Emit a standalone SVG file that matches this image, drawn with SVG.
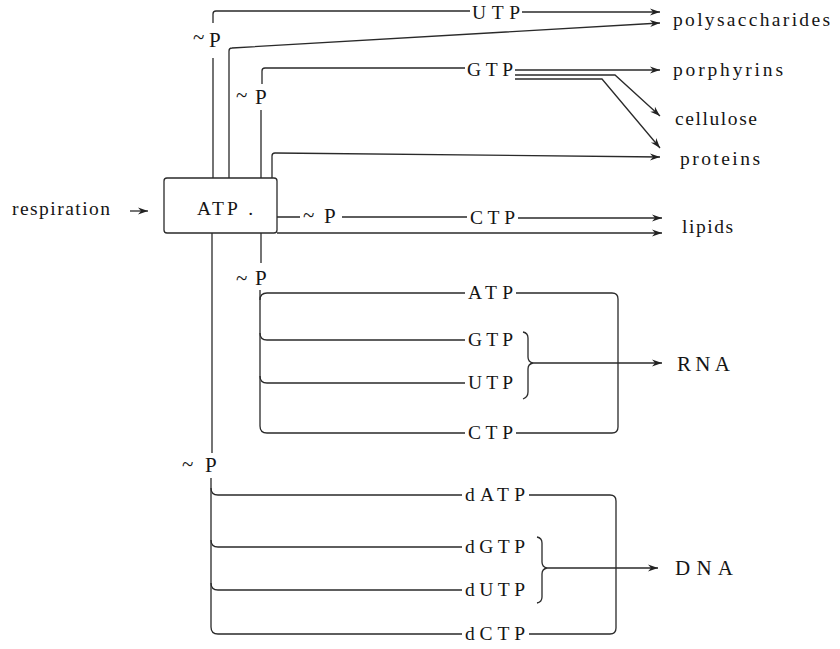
<svg xmlns="http://www.w3.org/2000/svg" width="840" height="649" viewBox="0 0 840 649">
<style>
.t{font-family:"Liberation Serif","Times New Roman",serif;font-size:19.5px;fill:#151515}
.p{font-family:"Liberation Serif","Times New Roman",serif;font-size:21px;fill:#151515}
.tl{font-family:"Liberation Serif","Times New Roman",serif;font-size:21px;fill:#151515}
.big{font-family:"Liberation Serif","Times New Roman",serif;font-size:21px;fill:#151515}
.c{fill:none;stroke:#2a2a2a;stroke-width:1.3}
.a{marker-end:url(#ah)}
</style>
<defs>
<marker id="ah" viewBox="0 0 10 8" refX="10" refY="4" markerWidth="11" markerHeight="8" orient="auto" markerUnits="userSpaceOnUse"><path d="M0,0.5 L10,4 L0,7.5 L3,4z" fill="#222"/></marker>
</defs>
<rect width="840" height="649" fill="#fff"/>
<g id="connectors">
<path class="c a" d="M130,211 H148"/>
<path class="c" d="M213,178 V58 M213,23 V14 Q213,11 216,11 H470"/>
<path class="c a" d="M522,12 H660"/>
<path class="c a" d="M229,178 V51 Q229,48 232,48 L660,23"/>
<path class="c" d="M261,178 V110 M262,84 V71 Q262,68 265,68 H465"/>
<path class="c a" d="M515,70 H660"/>
<path class="c a" d="M515,75 H615 L660,116"/>
<path class="c a" d="M515,79 H602 L660,148"/>
<path class="c a" d="M272,178 V156 Q272,153 275,153 L660,157"/>
<path class="c" d="M277,217 H300 M342,217 H467"/>
<path class="c a" d="M518,218 H662"/>
<path class="c a" d="M277,233 H662"/>
<path class="c" d="M261,233 V263"/>
<path class="c" d="M260,290 V426 Q260,433 267,433 H465"/>
<path class="c" d="M260,300 Q260,293 267,293 H465"/>
<path class="c" d="M260,333 Q260,340 267,340 H465"/>
<path class="c" d="M260,376 Q260,383 267,383 H465"/>
<path class="c" d="M516,293 H612 Q618,293 618,299 V427 Q618,433 612,433 H516"/>
<path class="c" d="M523,332 Q528,333 528,338 V357 Q528,362 533,363 Q528,364 528,369 V392 Q528,397 523,399"/>
<path class="c a" d="M533,363 H662"/>
<path class="c" d="M212,233 V453"/>
<path class="c" d="M211,478 V627 Q211,634 218,634 H462"/>
<path class="c" d="M211,488 Q211,495 218,495 H462"/>
<path class="c" d="M211,540 Q211,547 218,547 H462"/>
<path class="c" d="M211,583 Q211,590 218,590 H462"/>
<path class="c" d="M529,495 H610 Q616,495 616,501 V628 Q616,634 610,634 H529"/>
<path class="c" d="M537,537 Q542,538 542,543 V562 Q542,567 547,568 Q542,569 542,574 V597 Q542,602 537,603"/>
<path class="c a" d="M547,568 H658"/>
</g>
<g id="atp-box">
<rect x="164" y="178" width="113" height="55" rx="3" fill="none" stroke="#2a2a2a" stroke-width="1.3"/>
<text class="t" x="197" y="215" textLength="56" lengthAdjust="spacing">ATP .</text>
</g>
<g id="respiration"><text class="t" x="12" y="215" textLength="98" lengthAdjust="spacing">respiration</text></g>
<g id="p1"><text class="tl" x="193" y="44">~</text><text class="p" x="209" y="47">P</text></g>
<g id="p2"><text class="tl" x="236" y="102">~</text><text class="p" x="255" y="104">P</text></g>
<g id="p3"><text class="tl" x="303" y="222">~</text><text class="p" x="324" y="223">P</text></g>
<g id="p4"><text class="tl" x="236" y="285">~</text><text class="p" x="255" y="285">P</text></g>
<g id="p5"><text class="tl" x="182" y="471">~</text><text class="p" x="205" y="472">P</text></g>
<g id="utp1"><text class="t" x="472" y="19" textLength="48" lengthAdjust="spacing">UTP</text></g>
<g id="gtp1"><text class="t" x="467" y="76" textLength="46" lengthAdjust="spacing">GTP</text></g>
<g id="ctp1"><text class="t" x="470" y="224" textLength="45" lengthAdjust="spacing">CTP</text></g>
<g id="polysaccharides"><text class="t" x="673" y="26" textLength="157" lengthAdjust="spacing">polysaccharides</text></g>
<g id="porphyrins"><text class="t" x="673" y="76" textLength="110" lengthAdjust="spacing">porphyrins</text></g>
<g id="cellulose"><text class="t" x="675" y="125" textLength="82" lengthAdjust="spacing">cellulose</text></g>
<g id="proteins"><text class="t" x="680" y="165" textLength="80" lengthAdjust="spacing">proteins</text></g>
<g id="lipids"><text class="t" x="682" y="233" textLength="51" lengthAdjust="spacing">lipids</text></g>
<g id="atp2"><text class="t" x="468" y="299" textLength="45" lengthAdjust="spacing">ATP</text></g>
<g id="gtp2"><text class="t" x="468" y="346" textLength="45" lengthAdjust="spacing">GTP</text></g>
<g id="utp2"><text class="t" x="468" y="389" textLength="45" lengthAdjust="spacing">UTP</text></g>
<g id="ctp2"><text class="t" x="468" y="439" textLength="45" lengthAdjust="spacing">CTP</text></g>
<g id="rna"><text class="big" x="677" y="371" textLength="53" lengthAdjust="spacing">RNA</text></g>
<g id="datp"><text class="t" x="465" y="501" textLength="60" lengthAdjust="spacing">dATP</text></g>
<g id="dgtp"><text class="t" x="465" y="553" textLength="60" lengthAdjust="spacing">dGTP</text></g>
<g id="dutp"><text class="t" x="465" y="596" textLength="60" lengthAdjust="spacing">dUTP</text></g>
<g id="dctp"><text class="t" x="465" y="640" textLength="60" lengthAdjust="spacing">dCTP</text></g>
<g id="dna"><text class="big" x="675" y="575" textLength="58" lengthAdjust="spacing">DNA</text></g>
</svg>
